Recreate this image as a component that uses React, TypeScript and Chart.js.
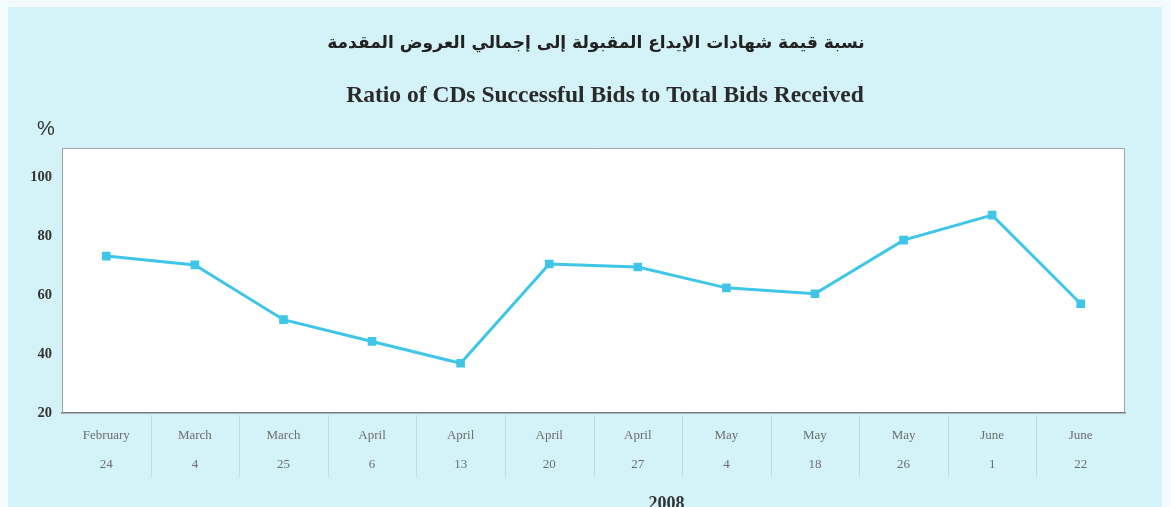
import React, { useEffect, useRef } from "react";
import { Chart, registerables } from "chart.js";

Chart.register(...registerables);

const months = ["February", "March", "March", "April", "April", "April", "April", "May", "May", "May", "June", "June"];
const days = ["24", "4", "25", "6", "13", "20", "27", "4", "18", "26", "1", "22"];
const ratio = [73.3, 70.3, 51.7, 44.3, 36.9, 70.6, 69.6, 62.5, 60.5, 78.7, 87.2, 57.1];
const yTicks = [20, 40, 60, 80, 100];
const titleAr = "نسبة قيمة شهادات الإيداع المقبولة إلى إجمالي العروض المقدمة";
const titleEn = "Ratio of CDs Successful Bids to Total Bids Received";
const yearLabel = "2008";
const unitLabel = "%";

const SERIF = "'Liberation Serif', 'Times New Roman', serif";

const framePlugin = {
  id: "frame",
  beforeDraw(chart: any) {
    const { ctx, chartArea } = chart;
    ctx.save();
    ctx.fillStyle = "#ffffff";
    ctx.fillRect(chartArea.left, chartArea.top, chartArea.right - chartArea.left, chartArea.bottom - chartArea.top);
    ctx.restore();
  },
  afterDraw(chart: any) {
    const { ctx, chartArea, scales } = chart;
    const x = scales.x;
    ctx.save();
    // titles
    ctx.textAlign = "center";
    ctx.textBaseline = "middle";
    ctx.fillStyle = "#222";
    ctx.font = "bold 17px 'DejaVu Sans', sans-serif";
    ctx.fillText(titleAr, 596, 44);
    ctx.font = "bold 23.5px " + SERIF;
    ctx.fillStyle = "#2a2a2a";
    ctx.fillText(titleEn, 605, 96);
    // plot border
    ctx.strokeStyle = "#9aa6a8";
    ctx.lineWidth = 1;
    ctx.beginPath();
    ctx.moveTo(chartArea.left + 0.5, chartArea.bottom);
    ctx.lineTo(chartArea.left + 0.5, chartArea.top + 0.5);
    ctx.lineTo(chartArea.right - 0.5, chartArea.top + 0.5);
    ctx.lineTo(chartArea.right - 0.5, chartArea.bottom);
    ctx.stroke();
    // faint separators in label area
    ctx.strokeStyle = "rgba(160,200,206,0.5)";
    for (let i = 1; i < months.length; i++) {
      const px = Math.round((x.getPixelForTick(i - 1) + x.getPixelForTick(i)) / 2) + 0.5;
      ctx.beginPath();
      ctx.moveTo(px, chartArea.bottom + 2);
      ctx.lineTo(px, chartArea.bottom + 64);
      ctx.stroke();
    }
    // unit label
    ctx.fillStyle = "#333";
    ctx.font = "20px 'Liberation Sans', Arial, sans-serif";
    ctx.fillText(unitLabel, 46, 129);
    // year label
    ctx.font = "bold 18px " + SERIF;
    ctx.fillStyle = "#333";
    ctx.fillText(yearLabel, (chartArea.left + chartArea.right) / 2 + 73, 504);
    ctx.restore();
  },
};

export default function App() {
  const ref = useRef<HTMLCanvasElement>(null);
  useEffect(() => {
    if (!ref.current) return;
    const chart = new Chart(ref.current, {
      type: "line",
      data: {
        labels: months.map((m, i) => [m, days[i]]),
        datasets: [
          {
            data: ratio,
            borderColor: "#3fc5e8",
            backgroundColor: "#3fc5e8",
            borderWidth: 3,
            pointStyle: "rect",
            pointRadius: 4,
            pointBackgroundColor: "#3fc5e8",
            pointBorderColor: "#3fc5e8",
            tension: 0,
          },
        ],
      },
      options: {
        responsive: false,
        animation: false,
        layout: { padding: { left: 8, right: 46, top: 148, bottom: 0 } },
        plugins: {
          legend: { display: false },
          tooltip: { enabled: false },
        },
        scales: {
          x: {
            type: "category",
            offset: true,
            grid: { display: false, drawTicks: false },
            border: { display: true, color: "#7a7a7a", width: 1.5 },
            ticks: {
              color: "#6e6e6e",
              font: { family: SERIF, size: 13, lineHeight: 2.23 },
              padding: 8,
              maxRotation: 0,
              autoSkip: false,
            },
            afterFit: (s: any) => {
              s.height = 94;
            },
          },
          y: {
            min: 20,
            max: 110,
            grid: { display: false, drawTicks: false },
            border: { display: true, color: "#9aa6a8", width: 1 },
            afterBuildTicks: (s: any) => {
              s.ticks = yTicks.map((v) => ({ value: v }));
            },
            ticks: {
              color: "#333",
              font: { family: SERIF, size: 14.5, weight: "bold" },
              padding: 10,
            },
            afterFit: (s: any) => {
              s.width = 54;
            },
          },
        },
      },
      plugins: [framePlugin],
    });
    return () => chart.destroy();
  }, []);

  return (
    <div style={{ position: "absolute", left: 0, top: 0, width: 1171, height: 507, background: "#f4fbfc", overflow: "hidden" }}>
      <div style={{ position: "absolute", left: 8, top: 7, width: 1154, height: 500, background: "#d3f3f8" }} />
      <canvas ref={ref} width={1171} height={507} style={{ position: "absolute", left: 0, top: 0 }} />
    </div>
  );
}
